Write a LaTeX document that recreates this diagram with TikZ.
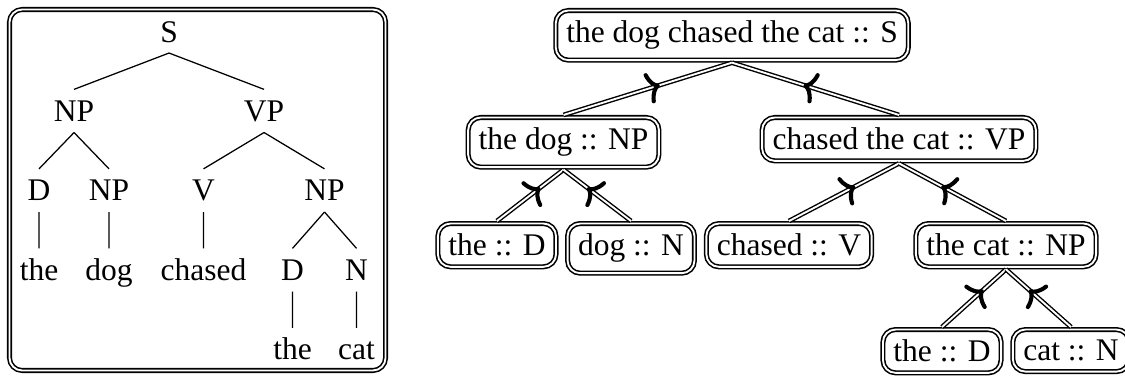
\documentclass[tikz,border=0pt]{standalone}
\usepackage{fontspec}
\setmainfont{Liberation Serif}
\usetikzlibrary{decorations.markings,arrows.meta}

\tikzset{
  frame/.style={draw,double,line width=0.5pt,double distance=0.6pt,rounded corners},
  box/.style={frame,outer sep=0.8pt,anchor=north},
  label/.style={text height=8pt,text depth=1.3pt,inner sep=2pt},
  link/.style={double,line width=0.45pt,double distance=0.6pt},
  tipmark/.style={decorate,decoration={markings,
    mark=at position 0.5 with {\pgftransformxshift{4pt}\arrow{To[length=4pt,width=10pt,line width=1.3pt]}}}}
}

\begin{document}
\begin{tikzpicture}
\useasboundingbox (0,0) rectangle (12.553,-4.251);
\draw[frame] (0.106,-0.106) rectangle (4.302,-4.134);

% plain phrase structure tree
\begin{scope}[every node/.style={label},level distance=0.887cm,
    edge from parent path={(\tikzparentnode.south) -- (\tikzchildnode.north)},
    level 1/.style={sibling distance=2.12cm}]
  \node (s) at (1.886,-0.351) {S}
    child {node (np) {NP}
      child[sibling distance=0.781cm] {node (d) {D} child {node (the) {the}}}
      child[sibling distance=0.781cm] {node (np2) {NP} child {node (dog) {dog}}}}
    child {node (vp) {VP}
      child[sibling distance=1.35cm] {node (v) {V} child {node (chased) {chased}}}
      child[sibling distance=1.35cm] {node (np3) {NP}
        child[sibling distance=0.714cm] {node (d2) {D} child {node (the2) {the}}}
        child[sibling distance=0.714cm] {node (n) {N} child {node (cat) {cat}}}}};
\end{scope}

% typed tree, every edge points up to its parent
\node[box] (sent) at (8.168,-0.089) {the dog chased the cat :: S};
\node[box] (subj) at (6.288,-1.283) {the dog :: NP};
\node[box] (pred) at (10.031,-1.283) {chased the cat :: VP};
\node[box] (det) at (5.545,-2.466) {the :: D};
\node[box] (noun) at (7.041,-2.466) {dog :: N};
\node[box] (verb) at (8.804,-2.466) {chased :: V};
\node[box] (obj) at (11.225,-2.466) {the cat :: NP};
\node[box] (det2) at (10.511,-3.649) {the :: D};
\node[box] (noun2) at (11.950,-3.649) {cat :: N};

\foreach \c/\p in {subj/sent,pred/sent,det/subj,noun/subj,verb/pred,obj/pred,det2/obj,noun2/obj}{
  \draw[link] (\c.north) -- (\p.south);
  \path[tipmark] (\c.north) -- (\p.south);
}
\end{tikzpicture}
\end{document}
